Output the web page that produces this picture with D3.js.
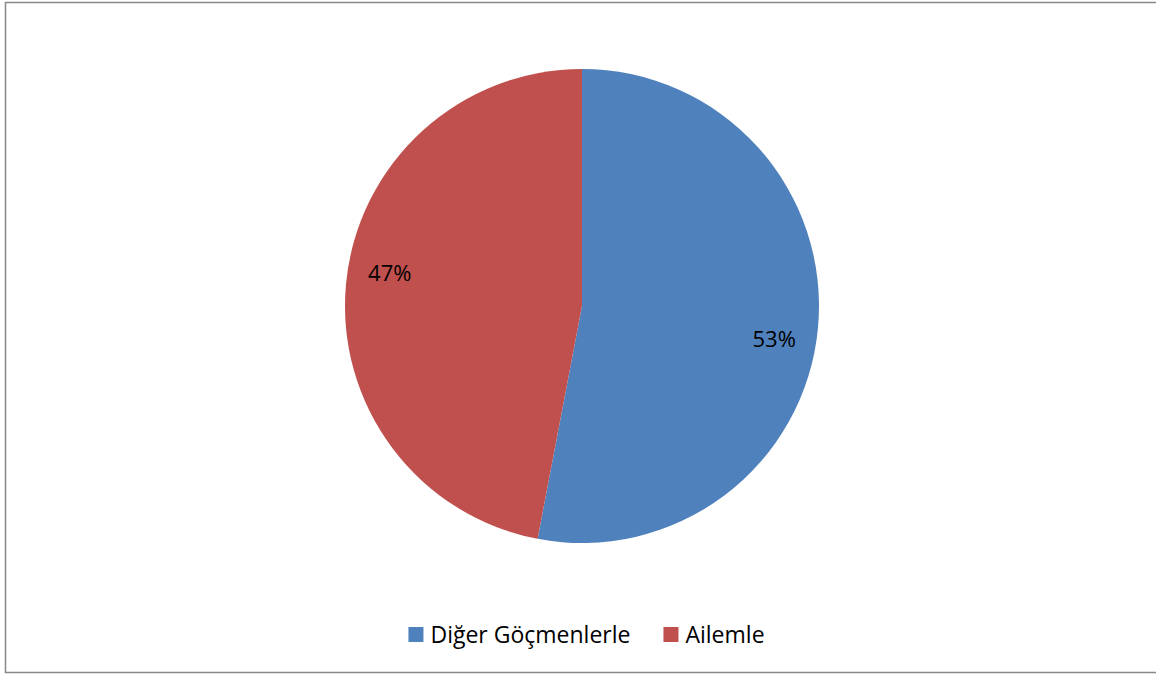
<!DOCTYPE html>
<html>
<head>
<meta charset="utf-8">
<script src="https://cdn.jsdelivr.net/npm/d3@7"></script>
<style>
  body { margin: 0; background: #fff; }
  text { font-family: "Open Sans", sans-serif; fill: #000; }
</style>
</head>
<body>
<div id="chart"></div>
<script>
(function() {
  var width = 1156,
    height = 675;

  var categories = ["Diğer Göçmenlerle", "Ailemle"];
  var values = [53, 47];
  var labels = ["53%", "47%"];
  var colors = ["#4F81BD", "#C0504D"];

  var svg = d3.select("#chart")
    .append("svg")
    .attr("width", width)
    .attr("height", height)

  // chart frame, runs off the right edge like the original
  svg.append("rect")
    .attr("x", 5.5)
    .attr("y", 2.5)
    .attr("width", 1160)
    .attr("height", 670)
    .attr("fill", "#fff")
    .attr("stroke", "#888")
    .attr("stroke-width", 1.5)

  var cx = 582, cy = 306, radius = 237;

  var pie = d3.pie().sort(null).value(function(d) { return d; })
  var arcs = pie(values)

  var arc = d3.arc().innerRadius(0).outerRadius(radius)

  var g = svg.append("g")
    .attr("transform", "translate(" + cx + "," + cy + ")")

  g.selectAll(".slice")
    .data(arcs)
    .enter().append("path")
    .attr("class", "slice")
    .attr("d", arc)
    .attr("fill", function(d, i) { return colors[i] })

  // labels sit a little clockwise of the slice middle, as excel places them
  var labelR = 195, shift = 4.3 * Math.PI / 180;
  g.selectAll(".lbl")
    .data(arcs)
    .enter().append("text")
    .attr("class", "lbl")
    .attr("transform", function(d) {
      var a = (d.startAngle + d.endAngle) / 2 + shift;
      return "translate(" + (labelR * Math.sin(a)) + "," + (-labelR * Math.cos(a)) + ")"
    })
    .attr("text-anchor", "middle")
    .attr("dy", "0.35em")
    .style("font-size", "22px")
    .text(function(d, i) { return labels[i] })

  // legend, centred under the pie
  var legend = svg.append("g")
  var items = legend.selectAll(".item")
    .data(categories)
    .enter().append("g")
    .attr("class", "item")

  items.append("rect")
    .attr("width", 15)
    .attr("height", 15)
    .attr("y", -15)
    .attr("fill", function(d, i) { return colors[i] })

  items.append("text")
    .attr("x", 22)
    .attr("y", 1)
    .style("font-size", "23px")
    .text(function(d) { return d })

  var x = 0;
  items.each(function() {
    var w = this.getBBox().width;
    d3.select(this).attr("transform", "translate(" + x + ",0)")
    x += w + 33;
  })
  var total = x - 33;
  legend.attr("transform", "translate(" + (586.5 - total / 2) + ",642)")
})();
</script>
</body>
</html>
